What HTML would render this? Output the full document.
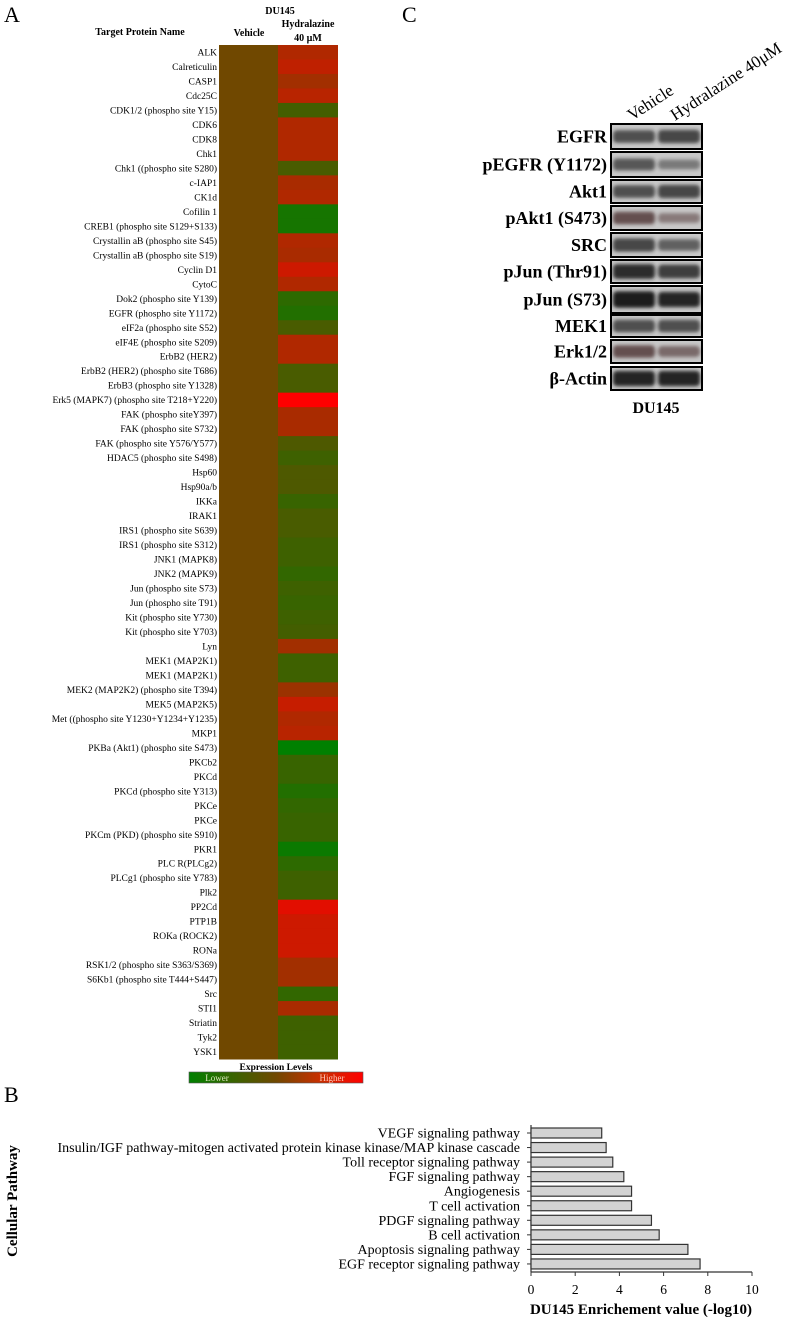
<!DOCTYPE html>
<html><head><meta charset="utf-8">
<style>
body{margin:0;background:#fff;}
svg{display:block;font-family:"Liberation Serif",serif;}
</style></head>
<body>
<svg id="fig" width="797" height="1321" viewBox="0 0 797 1321" xmlns="http://www.w3.org/2000/svg">
<defs>
<linearGradient id="legGrad" x1="0" x2="1" y1="0" y2="0">
<stop offset="0" stop-color="#008000"/><stop offset="0.5" stop-color="#704800"/><stop offset="0.75" stop-color="#c83000"/><stop offset="1" stop-color="#ff0000"/>
</linearGradient>
<filter id="blur" x="-20%" y="-60%" width="140%" height="220%"><feGaussianBlur stdDeviation="1.8"/></filter>
</defs>
<text x="4" y="22" font-size="22">A</text>
<text x="402" y="22" font-size="22">C</text>
<text x="4" y="1102" font-size="22">B</text>
<text x="280" y="14" font-size="10" font-weight="bold" text-anchor="middle">DU145</text>
<text x="140" y="35" font-size="10" font-weight="bold" text-anchor="middle">Target Protein Name</text>
<text x="249" y="36" font-size="10" font-weight="bold" text-anchor="middle">Vehicle</text>
<text x="308" y="27" font-size="10" font-weight="bold" text-anchor="middle">Hydralazine</text>
<text x="308" y="41" font-size="10" font-weight="bold" text-anchor="middle">40 µM</text>
<g id="heat"></g>
<text x="276" y="1070" font-size="9.5" font-weight="bold" text-anchor="middle">Expression Levels</text>
<rect x="189" y="1072" width="174" height="11" fill="url(#legGrad)" stroke="#555" stroke-width="0.6"/>
<text x="217" y="1081" font-size="9" fill="#dfe8c0" text-anchor="middle">Lower</text>
<text x="332" y="1081" font-size="9" fill="#ffc8b8" text-anchor="middle">Higher</text>
<g id="blot"></g>
<text transform="translate(632,121) rotate(-33)" font-size="17">Vehicle</text>
<text transform="translate(675,121) rotate(-33)" font-size="17">Hydralazine  40μM</text>
<text x="656" y="413" font-size="16" font-weight="bold" text-anchor="middle">DU145</text>
<g id="bars"></g>
<text transform="translate(17,1201) rotate(-90)" font-size="15" font-weight="bold" text-anchor="middle">Cellular Pathway</text>
<text x="641" y="1314" font-size="15" font-weight="bold" text-anchor="middle">DU145 Enrichement value (-log10)</text>
</svg>
<script>
var proteins=["ALK","Calreticulin","CASP1","Cdc25C","CDK1/2 (phospho site Y15)","CDK6","CDK8","Chk1","Chk1 ((phospho site S280)","c-IAP1","CK1d","Cofilin 1","CREB1 (phospho site S129+S133)","Crystallin aB (phospho site S45)","Crystallin aB (phospho site S19)","Cyclin D1","CytoC","Dok2 (phospho site Y139)","EGFR (phospho site Y1172)","eIF2a (phospho site S52)","eIF4E (phospho site S209)","ErbB2 (HER2)","ErbB2 (HER2) (phospho site T686)","ErbB3 (phospho site Y1328)","Erk5 (MAPK7) (phospho site T218+Y220)","FAK (phospho siteY397)","FAK (phospho site S732)","FAK (phospho site Y576/Y577)","HDAC5 (phospho site S498)","Hsp60","Hsp90a/b","IKKa","IRAK1","IRS1 (phospho site S639)","IRS1 (phospho site S312)","JNK1 (MAPK8)","JNK2 (MAPK9)","Jun (phospho site S73)","Jun (phospho site T91)","Kit (phospho site Y730)","Kit (phospho site Y703)","Lyn","MEK1 (MAP2K1)","MEK1 (MAP2K1)","MEK2 (MAP2K2) (phospho site T394)","MEK5 (MAP2K5)","Met ((phospho site Y1230+Y1234+Y1235)","MKP1","PKBa (Akt1) (phospho site S473)","PKCb2","PKCd","PKCd (phospho site Y313)","PKCe","PKCe","PKCm (PKD) (phospho site S910)","PKR1","PLC R(PLCg2)","PLCg1 (phospho site Y783)","Plk2","PP2Cd","PTP1B","ROKa (ROCK2)","RONa","RSK1/2 (phospho site S363/S369)","S6Kb1 (phospho site T444+S447)","Src","STI1","Striatin","Tyk2","YSK1"];
var vehicleVals=proteins.map(function(){return 0;});
var hydralazineVals=[0.45,0.55,0.35,0.5,-0.4,0.45,0.45,0.45,-0.35,0.4,0.45,-0.8,-0.8,0.45,0.4,0.65,0.45,-0.6,-0.7,-0.35,0.45,0.45,-0.35,-0.35,1.0,0.4,0.4,-0.3,-0.45,-0.3,-0.3,-0.5,-0.35,-0.35,-0.45,-0.45,-0.55,-0.45,-0.5,-0.45,-0.4,0.35,-0.45,-0.45,0.3,0.6,0.45,0.5,-1,-0.5,-0.5,-0.7,-0.55,-0.5,-0.5,-0.9,-0.6,-0.45,-0.45,0.8,0.65,0.65,0.65,0.35,0.35,-0.55,0.4,-0.45,-0.45,-0.45];
var pathways=["VEGF signaling pathway","Insulin/IGF pathway-mitogen activated protein kinase kinase/MAP kinase cascade","Toll receptor signaling pathway","FGF signaling pathway","Angiogenesis","T cell activation","PDGF signaling pathway","B cell activation","Apoptosis signaling pathway","EGF receptor signaling pathway"];
var enrichment=[3.2,3.4,3.7,4.2,4.55,4.55,5.45,5.8,7.1,7.65];
var xTicks=[0,2,4,6,8,10];
var blotLabels=["EGFR","pEGFR (Y1172)","Akt1","pAkt1 (S473)","SRC","pJun (Thr91)","pJun (S73)","MEK1","Erk1/2","β-Actin"];
var bandVehicle=[0.6,0.55,0.6,0.6,0.65,0.8,0.95,0.6,0.6,0.85];
var bandHydralazine=[0.65,0.35,0.65,0.35,0.5,0.7,0.85,0.6,0.45,0.85];

var NS="http://www.w3.org/2000/svg";
function mk(tag,attrs,parent){var e=document.createElementNS(NS,tag);for(var k in attrs)e.setAttribute(k,attrs[k]);parent.appendChild(e);return e;}
function colorOf(v){var r,g;
 if(v<0){var t=-v;r=112*(1-t);g=72+56*t;}else{var s=v;r=112+143*s;g=72*(1-s);}
 return "rgb("+Math.round(r)+","+Math.round(g)+",0)";}
var heat=document.getElementById('heat');
var hTop=45,hBot=1059,rowH=(hBot-hTop)/proteins.length;
var colX=[219,278],colW=[59,60];
function rowY(i){return hTop+i*rowH;}
proteins.forEach(function(p,i){
 var y=rowY(i);
 var c1=mk('rect',{x:colX[0],y:y,width:colW[0],height:rowH+0.5,fill:colorOf(vehicleVals[i])},heat);
 
 
 var c2=mk('rect',{x:colX[1],y:y,width:colW[1],height:rowH+0.5,fill:colorOf(hydralazineVals[i])},heat);
 
 
 var t=mk('text',{x:217,y:y+rowH/2+3.3,'font-size':9.5,'text-anchor':'end'},heat);
 t.textContent=p;
 
 
});
var blot=document.getElementById('blot');
var boxTops=[124,152,180,206,233,260,286,315,340,367],boxH=[25,25,23,24,24,23,27,22,23,23];
blotLabels.forEach(function(l,i){
 var y=boxTops[i],h=boxH[i];
 var bg=mk('rect',{x:611,y:y,width:91,height:h,fill:'#c8c8c8'},blot);
 
 
 [[612,bandVehicle[i]],[657,bandHydralazine[i]]].forEach(function(b,j){
  var a=b[1];var bh=6+a*11;
  var band=mk('rect',{x:b[0]+1,y:y+h/2-bh/2,width:42,height:bh,rx:4,fill:i==3||i==8?'#3a1f1f':'#1a1a1a',opacity:Math.min(1,a+0.1),filter:'url(#blur)'},blot);
  
  
 });
 var fr=mk('rect',{x:611,y:y,width:91,height:h,fill:'none',stroke:'#000','stroke-width':2},blot);
 
 
 var t=mk('text',{x:607,y:y+h/2+6,'font-size':18,'font-weight':'bold','text-anchor':'end'},blot);
 t.textContent=l;
 
 
});
var bars=document.getElementById('bars');
var x0=531,x1=752,axisY=1272,axisTop=1125,y0=1133,step=14.55,bh=10;
function xs(v){return x0+(v/10)*(x1-x0);}
function ys(i){return y0+i*step;}
mk('line',{x1:x0,y1:axisTop,x2:x0,y2:axisY,stroke:'#333','stroke-width':1.2},bars);
mk('line',{x1:x0,y1:axisY,x2:x1,y2:axisY,stroke:'#333','stroke-width':1.2},bars);
pathways.forEach(function(p,i){
 var cy=ys(i);
 var r=mk('rect',{x:x0,y:cy-bh/2,width:xs(enrichment[i])-x0,height:bh,fill:'#d3d3d3',stroke:'#333','stroke-width':1.2},bars);
 
 
 mk('line',{x1:x0-4,y1:cy,x2:x0,y2:cy,stroke:'#333','stroke-width':1},bars);
 var t=mk('text',{x:520,y:cy+4.5,'font-size':14,'text-anchor':'end'},bars);
 t.textContent=p;
 
 
});
xTicks.forEach(function(v){
 var x=xs(v);
 mk('line',{x1:x,y1:axisY,x2:x,y2:axisY+4,stroke:'#333','stroke-width':1},bars);
 var t=mk('text',{x:x,y:1294,'font-size':13.5,'text-anchor':'middle'},bars);
 t.textContent=v;
 
 
});
</script>
</body></html>
